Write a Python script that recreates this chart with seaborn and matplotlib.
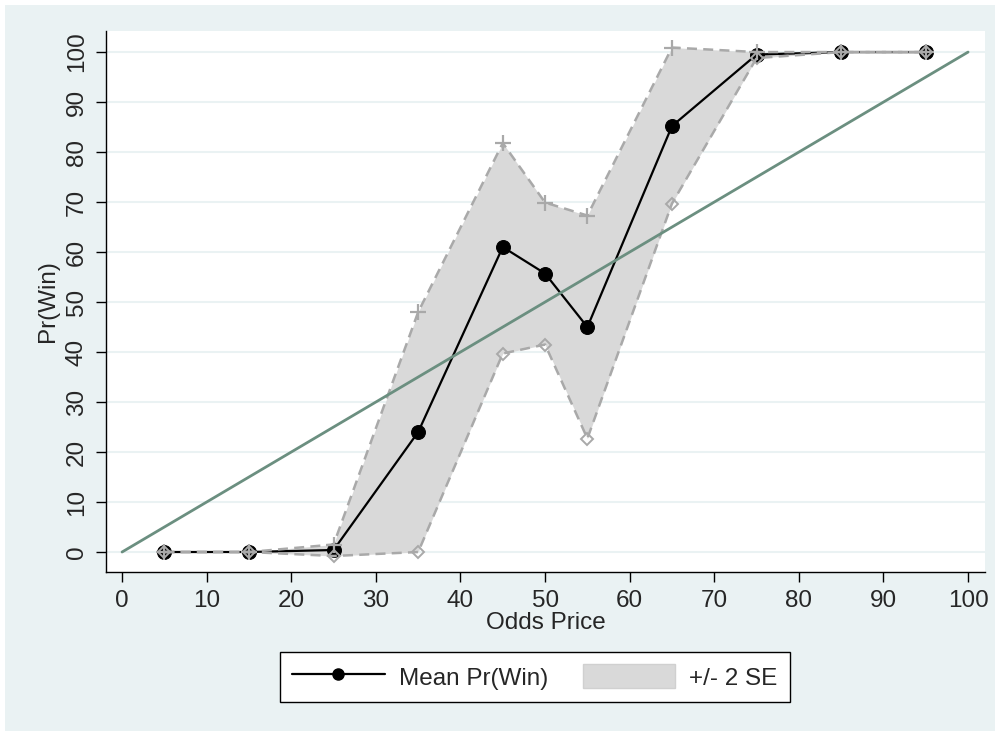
import matplotlib
matplotlib.use("Agg")
import matplotlib.pyplot as plt
import seaborn as sns
import pandas as pd
from matplotlib.lines import Line2D
from matplotlib.patches import Patch, Rectangle

# ---- data ----
odds_price = [5, 15, 25, 35, 45, 50, 55, 65, 75, 85, 95]
mean_win = [0, 0, 0.4, 24, 61, 55.7, 45, 85.2, 99.5, 100, 100]
upper_2se = [0, 0, 1.5, 48, 81.8, 69.9, 67.3, 100.9, 100, 100, 100]
lower_2se = [0, 0, -0.8, 0, 39.7, 41.5, 22.7, 69.7, 98.8, 100, 100]
diag_x = [0, 100]
diag_y = [0, 100]
ticks = [0, 10, 20, 30, 40, 50, 60, 70, 80, 90, 100]

df = pd.DataFrame({"x": odds_price, "mean": mean_win, "hi": upper_2se, "lo": lower_2se})
dd = pd.DataFrame({"x": diag_x, "y": diag_y})

sns.set_style("white")
plt.rcParams["font.family"] = ["Liberation Sans", "DejaVu Sans"]

bg = "#EAF2F3"
band_edge = "#a9a9a9"
fig = plt.figure(figsize=(10, 7.31), dpi=100, facecolor="white")
fig.patches.append(Rectangle((0.005, 0.0), 0.99, 0.993, transform=fig.transFigure,
                             facecolor=bg, edgecolor="none", zorder=-10))
ax = fig.add_axes([0.106, 0.2175, 0.879, 0.740])
ax.set_facecolor("white")

ax.fill_between(df["x"], df["lo"], df["hi"], color="#d9d9d9", linewidth=0, zorder=1)

sns.lineplot(data=df, x="x", y="mean", ax=ax, color="black", linewidth=1.6,
             marker="o", markersize=10, markeredgecolor="black", markerfacecolor="black", zorder=3)
sns.lineplot(data=df, x="x", y="hi", ax=ax, color=band_edge, linewidth=1.8,
             linestyle=(0, (4, 2.5)), marker="+", markersize=11, markeredgewidth=1.6,
             markeredgecolor=band_edge, zorder=4)
sns.lineplot(data=df, x="x", y="lo", ax=ax, color=band_edge, linewidth=1.8,
             linestyle=(0, (4, 2.5)), marker="D", markersize=6.5, markerfacecolor="none",
             markeredgecolor=band_edge, markeredgewidth=1.4, zorder=4)
sns.lineplot(data=dd, x="x", y="y", ax=ax, color="#6b8f80", linewidth=2.0, zorder=5)

ax.set_xlim(-1.9, 102.0)
ax.set_ylim(-4.0, 104.2)
ax.set_xticks(ticks)
ax.set_yticks(ticks)
ax.set_xticklabels([str(t) for t in ticks], fontsize=17.5)
ax.set_yticklabels([str(t) for t in ticks], fontsize=17.5, rotation=90, va="center")
ax.tick_params(axis="x", direction="out", length=7, width=1, color="black", pad=6, bottom=True)
ax.tick_params(axis="y", direction="out", length=7, width=1, color="black", pad=6, left=True)
for t in ticks:
    ax.axhline(t, color=bg, linewidth=1.5, zorder=0)
for s in ["top", "right"]:
    ax.spines[s].set_visible(False)
for s in ["left", "bottom"]:
    ax.spines[s].set_color("black")
    ax.spines[s].set_linewidth(1.0)

ax.set_xlabel("Odds Price", fontsize=17.5, labelpad=0)
ax.set_ylabel("Pr(Win)", fontsize=17.5)
ax.yaxis.set_label_coords(-0.054, 0.5)

handles = [Line2D([0], [0], color="black", linewidth=1.6, marker="o", markersize=8),
           Patch(facecolor="#d9d9d9", edgecolor="#d0d0d0")]
leg = fig.legend(handles, ["Mean Pr(Win)", "+/- 2 SE"], loc="center",
                 bbox_to_anchor=(0.535, 0.074), ncol=2, fontsize=17.5, frameon=True,
                 fancybox=False, edgecolor="black", handlelength=3.8, handleheight=1.15,
                 columnspacing=1.4, borderpad=0.5, handletextpad=0.6)
leg.get_frame().set_linewidth(1.0)
leg.get_frame().set_facecolor("white")
leg.get_frame().set_alpha(1)

fig.savefig("out.png", dpi=100, facecolor="white")
